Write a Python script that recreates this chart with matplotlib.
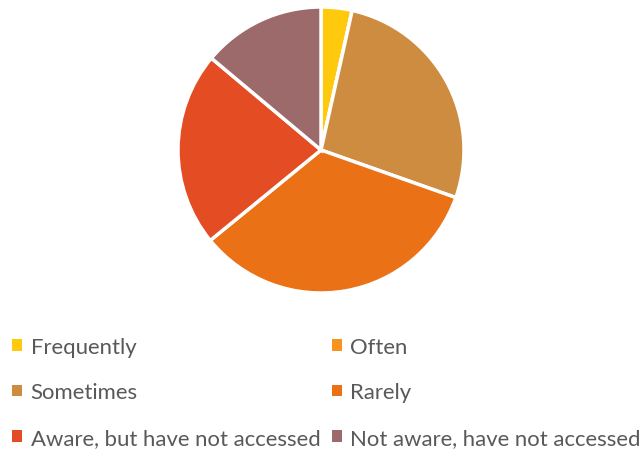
import matplotlib
matplotlib.use("Agg")
import matplotlib.pyplot as plt

# share of respondents per answer, clockwise from 12 o'clock
labels = ["Frequently", "Often", "Sometimes", "Rarely",
          "Aware, but have not accessed", "Not aware, have not accessed"]
shares = [3.5, 0.0, 26.9, 33.7, 22.0, 13.9]
colors = ["#FFC90E", "#F7941D", "#CD8C40", "#EB7117", "#E44C24", "#9C6A6A"]

plt.rcParams["font.family"] = ["Lato", "DejaVu Sans"]

fig = plt.figure(figsize=(6.42, 4.52), dpi=100)
# pie centred at (321, 151) px, radius ~143 px
ax = fig.add_axes([(321 - 145) / 642, 1 - (151 + 145) / 452, 290 / 642, 290 / 452])
wedges, _ = ax.pie(shares, colors=colors, startangle=90, counterclock=False,
                   radius=143 / 145,
                   wedgeprops=dict(edgecolor="white", linewidth=2.5))
ax.set_xlim(-1, 1)
ax.set_ylim(-1, 1)
ax.set_aspect("equal")

# legend laid out row by row, two columns
order = [0, 2, 4, 1, 3, 5]
leg = fig.legend([wedges[i] for i in order], [labels[i] for i in order],
                 loc="upper left", bbox_to_anchor=(12 / 642, 1 - 338 / 452),
                 ncol=2, frameon=False, fontsize=15.9,
                 handlelength=0.45, handleheight=0.45, handletextpad=0.4,
                 labelspacing=1.15, columnspacing=0.5, borderpad=0,
                 borderaxespad=0)
for t in leg.get_texts():
    t.set_color("#595959")
for h in leg.legend_handles:
    h.set_linewidth(0)

fig.savefig("out.png", dpi=100)
